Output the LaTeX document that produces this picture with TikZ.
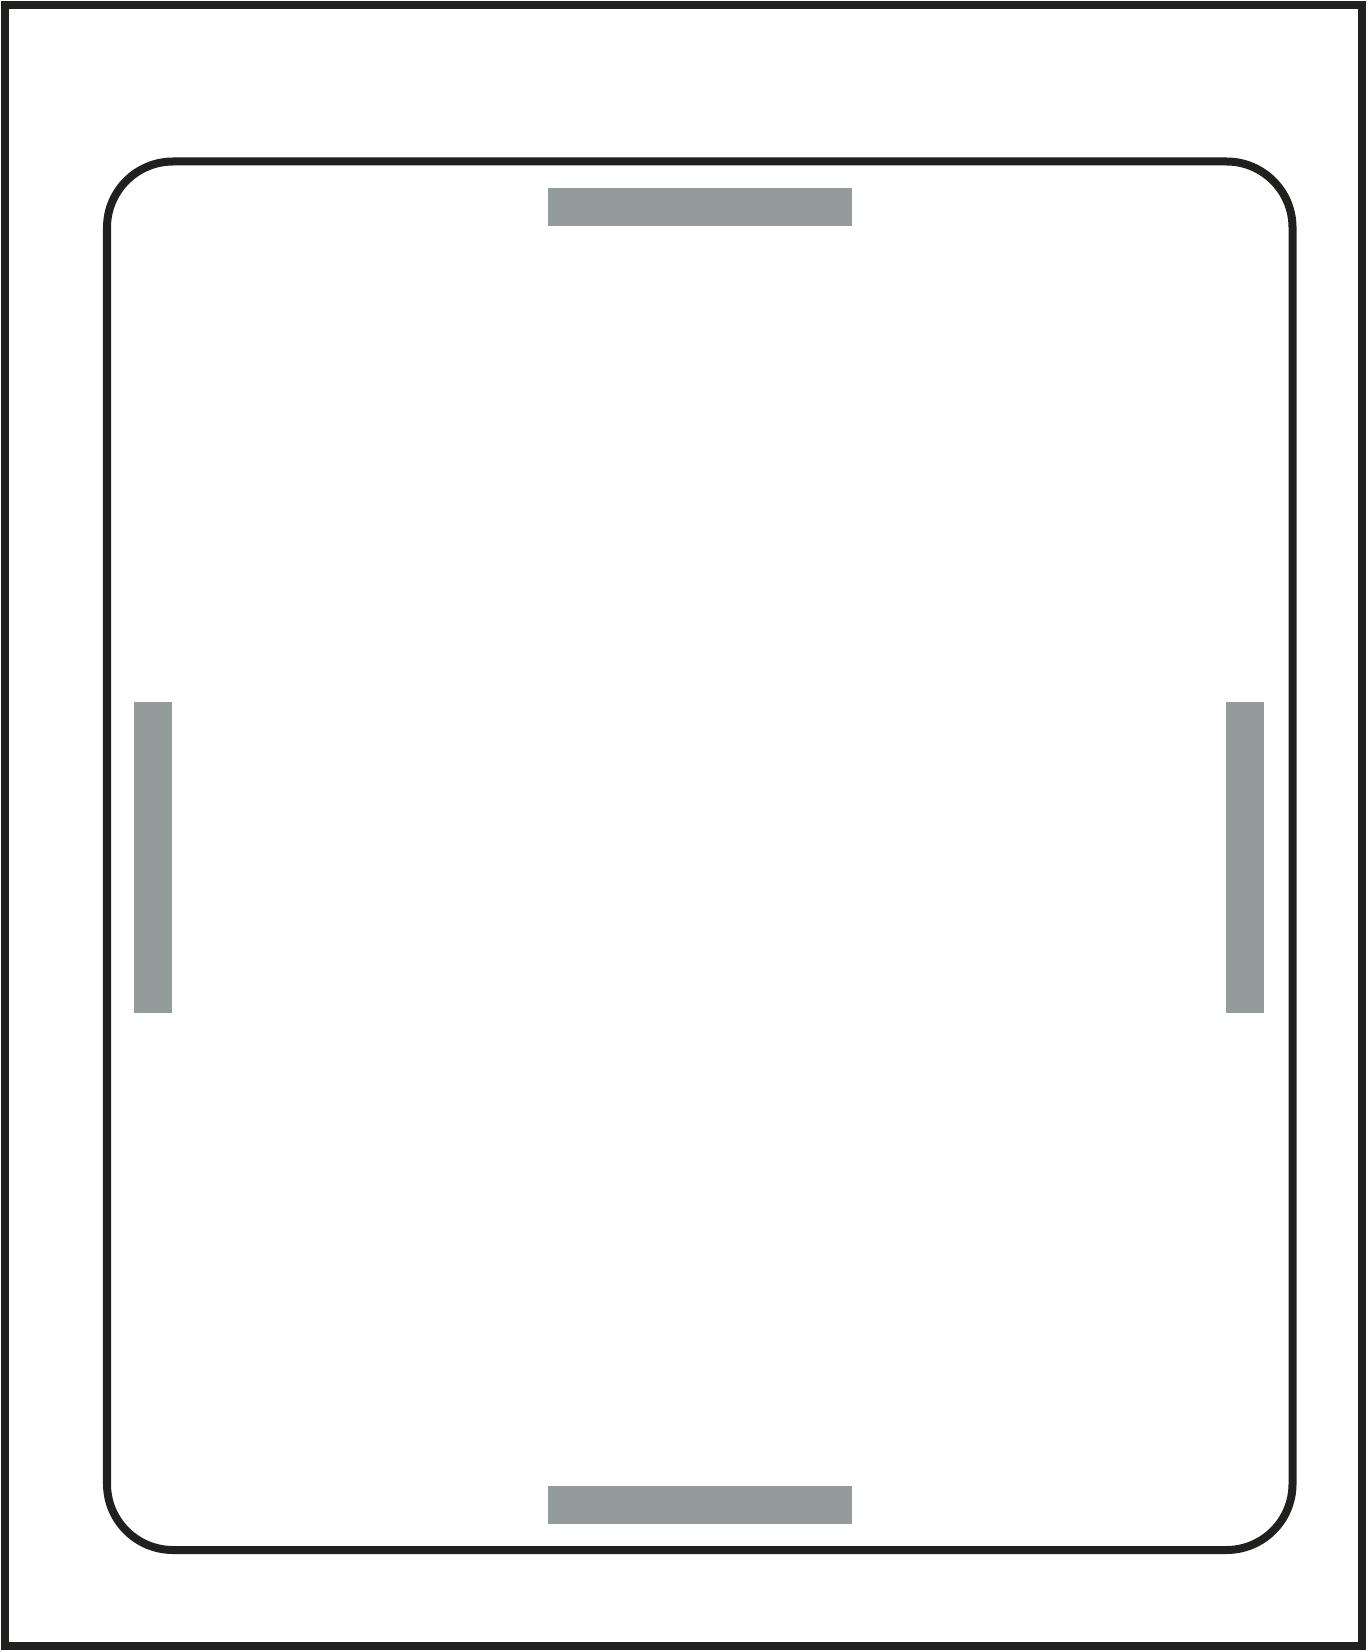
\documentclass[tikz,border=0pt]{standalone}
\usepackage{tikz}
\definecolor{black1}{RGB}{32,32,30}
\definecolor{gray1}	{RGB}{148,155,155}
\def\lw{0.08cm}
\def\rad{0.66cm}

\begin{document}
\begin{tikzpicture}[	x=0.01cm, y=-0.01cm,
				frame/.style={draw=black1,line width=\lw},
				pad/.style={fill=gray1,draw=none}]

	% Bounding box
	\useasboundingbox (0,0) rectangle (1367,1652);

	% Frame
	\draw[frame] (5,5) rectangle (1362,1646);
	\draw[frame,rounded corners=\rad] (107,161.5) rectangle (1292.5,1550);

	% Pads
	\fill[pad] (548,188) rectangle (852,226);
	\fill[pad] (548,1486) rectangle (852,1524);
	\fill[pad] (134,702) rectangle (171.5,1013);
	\fill[pad] (1226,702) rectangle (1263.5,1013);

\end{tikzpicture}
\end{document}
